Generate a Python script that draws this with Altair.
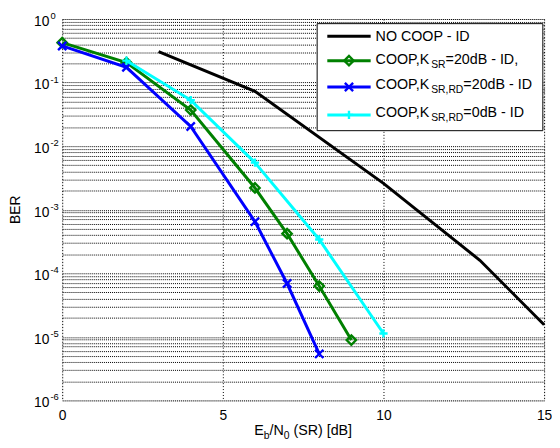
import altair as alt
import pandas as pd

# ---- data ----
x_nocoop = [3, 6, 10, 13, 15]
ber_nocoop = [0.308, 0.073, 2.6e-3, 1.6e-4, 1.55e-5]
x_green = [0, 2, 4, 6, 7, 8, 9]
ber_green = [0.425, 0.207, 0.037, 2.2e-3, 4.2e-4, 6.3e-5, 8.9e-6]
x_blue = [0, 2, 4, 6, 7, 8]
ber_blue = [0.377, 0.174, 0.0204, 6.5e-4, 6.9e-5, 5.4e-6]
x_cyan = [2, 4, 6, 8, 10]
ber_cyan = [0.221, 0.053, 0.0055, 3.4e-4, 1.13e-5]

x_ticks = [0, 5, 10, 15]
decades = [1, 1e-1, 1e-2, 1e-3, 1e-4, 1e-5, 1e-6]
exponents = ["0", "-1", "-2", "-3", "-4", "-5", "-6"]

legend_rows = [
    [("NO COOP - ID", 0)],
    [("COOP,K", 0), ("SR", 1), ("=20dB - ID,", 0)],
    [("COOP,K", 0), ("SR,RD", 1), ("=20dB - ID", 0)],
    [("COOP,K", 0), ("SR,RD", 1), ("=0dB - ID", 0)],
]
xtitle_parts = [("E", 0), ("b", 1), ("/N", 0), ("0", 1), (" (SR) [dB]", 0)]

# ---- layout / style ----
W, H = 489, 387
FONT = "Liberation Sans"
FS, FSS = 14.5, 10.5
XPATH = "M-1,-1L1,1M-1,1L1,-1"
PLUS = "M-1,0L1,0M0,-1L0,1"

AW = {'C': .722, 'O': .778, 'P': .667, ',': .278, 'K': .667, 'S': .667, 'R': .722,
      'D': .722, '=': .584, '0': .556, '2': .556, 'd': .556, 'B': .667, ' ': .278,
      '-': .333, 'I': .278, 'N': .722, 'E': .667, 'b': .556, '/': .278, '(': .333,
      ')': .333, '[': .278, ']': .278}


def tw(s, fs):
    return sum(AW.get(c, .556) for c in s) * fs


minor_vals = []
for k in range(-6, 0):
    for m in range(1, 10):
        minor_vals.append(m * 10.0 ** k)
minor_vals.append(1.0)

xscale = alt.Scale(domain=[0, 15], nice=False, zero=False)
yscale = alt.Scale(type="log", domain=[1e-6, 1], nice=False)
xaxis = alt.Axis(values=x_ticks, grid=True, gridColor="black", gridDash=[1, 2],
                 gridOpacity=1, ticks=False, domain=False, labelFontSize=14,
                 labelFont=FONT, labelColor="black", labelPadding=8,
                 labelFlush=False, labelOverlap=False, title=None)
yaxis = alt.Axis(values=minor_vals, grid=True, gridColor="black", gridDash=[1, 1],
                 gridOpacity=1, gridWidth=1, ticks=False, domain=False, labels=False,
                 title=None)

series = [
    (x_nocoop, ber_nocoop, "black", None),
    (x_green, ber_green, "#008000", "diamond"),
    (x_blue, ber_blue, "#0000ff", XPATH),
    (x_cyan, ber_cyan, "#00ffff", PLUS),
]

layers = []
one = pd.DataFrame({"a": [0]})

for xs, ys, col, shape in series:
    df = pd.DataFrame({"x": xs, "ber": ys})
    base = alt.Chart(df).encode(
        x=alt.X("x:Q", scale=xscale, axis=xaxis),
        y=alt.Y("ber:Q", scale=yscale, axis=yaxis),
    )
    layers.append(base.mark_line(color=col, strokeWidth=3))
    if shape is not None:
        sz = 90 if shape == "diamond" else 70
        layers.append(base.mark_point(shape=shape, filled=False, color=col,
                                      size=sz, strokeWidth=2.4, opacity=1))

# y tick labels (10 with superscript exponent)
dec_df = pd.DataFrame({"v": decades, "e": exponents})
layers.append(alt.Chart(dec_df).mark_text(text="10", align="right", baseline="middle",
                                          dy=3, fontSize=14, font=FONT, color="black").encode(
    x=alt.value(-13), y=alt.Y("v:Q", scale=yscale, axis=yaxis)))
layers.append(alt.Chart(dec_df).mark_text(align="left", baseline="middle", dy=-3,
                                          fontSize=9.5, font=FONT, color="black").encode(
    x=alt.value(-12), y=alt.Y("v:Q", scale=yscale, axis=yaxis), text="e:N"))

# y-axis title
layers.append(alt.Chart(one).mark_text(text="BER", angle=270, align="center",
                                       baseline="middle", fontSize=14, font=FONT,
                                       color="black").encode(
    x=alt.value(-47), y=alt.value(H / 2)))


def add_pieces(pieces, x0, y0, subdy):
    cx = x0
    for s, sub in pieces:
        fs = FSS if sub else FS
        lead = len(s) - len(s.lstrip(" "))
        cx += tw(" " * lead, fs)
        s2 = s.lstrip(" ")
        layers.append(alt.Chart(one).mark_text(text=s2, align="left", baseline="middle",
                                               fontSize=fs, font=FONT, color="black").encode(
            x=alt.value(cx), y=alt.value(y0 + (subdy if sub else 0))))
        cx += tw(s2, fs)


# x-axis title with subscripts
total = sum(tw(s, FSS if sub else FS) for s, sub in xtitle_parts)
add_pieces(xtitle_parts, W / 2 - total / 2, 418, 5)

# legend box
layers.append(alt.Chart(one).mark_rect(fill="white", stroke="black", strokeWidth=1).encode(
    x=alt.value(258.7), x2=alt.value(487.7), y=alt.value(4.7), y2=alt.value(113.3)))

row_text_y = [18.3, 41.3, 67.3, 95.7]
row_line_y = [17.5, 42.3, 69, 97.3]
for (xs, ys, col, shape), pieces, ty, ly in zip(series, legend_rows, row_text_y, row_line_y):
    layers.append(alt.Chart(one).mark_rule(color=col, strokeWidth=3).encode(
        x=alt.value(269), x2=alt.value(313), y=alt.value(ly)))
    if shape is not None:
        sz = 90 if shape == "diamond" else 70
        layers.append(alt.Chart(one).mark_point(shape=shape, filled=False, color=col,
                                                size=sz, strokeWidth=2.4, opacity=1).encode(
            x=alt.value(291), y=alt.value(ly)))
    add_pieces(pieces, 318, ty, 5)

chart = alt.layer(*layers).properties(
    width=W, height=H,
    autosize=alt.AutoSizeParams(type="none"),
    padding={"left": 55, "top": 8, "right": 8, "bottom": 37},
    background="white",
).configure_view(stroke="black", strokeWidth=1.2).configure(font=FONT)

chart.save("out.html", embed_options={"renderer": "svg", "actions": False})
